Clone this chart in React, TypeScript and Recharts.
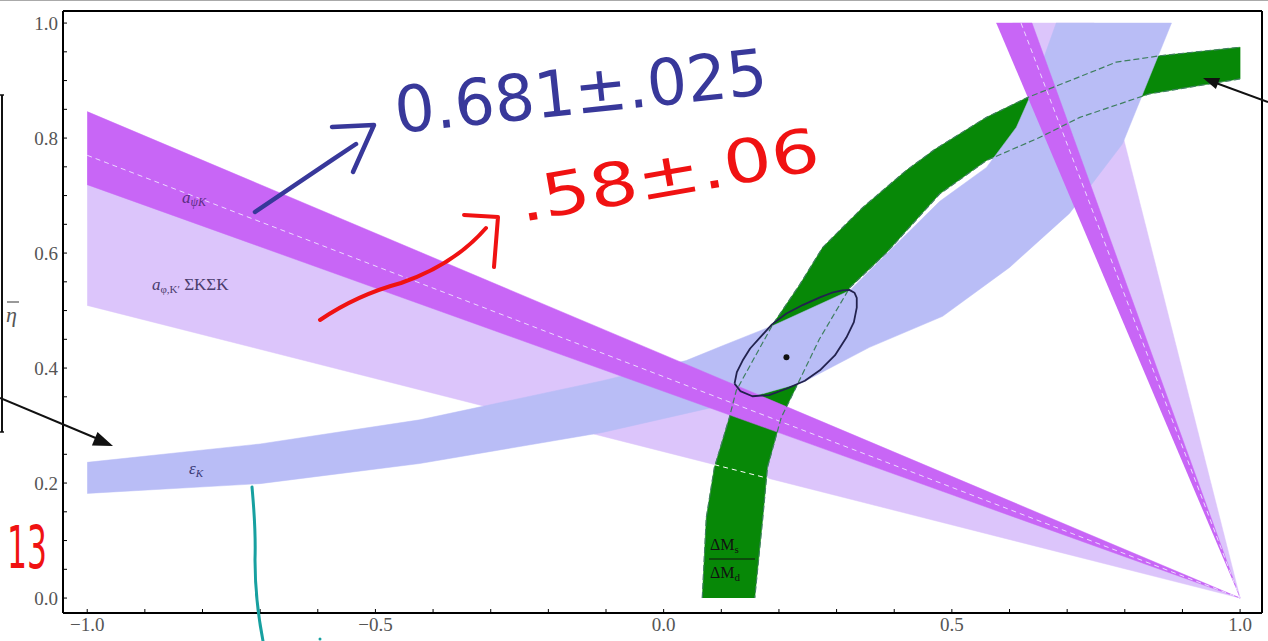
import React from 'react';
import { ScatterChart, Scatter, XAxis, YAxis } from 'recharts';

// ---- tick values ----
const xTicks = [-1.0, -0.9, -0.8, -0.7, -0.6, -0.5, -0.4, -0.3, -0.2, -0.1, 0.0, 0.1, 0.2, 0.3, 0.4, 0.5, 0.6, 0.7, 0.8, 0.9, 1.0];
const xLabeled = [-1.0, -0.5, 0.0, 0.5, 1.0];
const yTicks = [0.0, 0.05, 0.1, 0.15, 0.2, 0.25, 0.3, 0.35, 0.4, 0.45, 0.5, 0.55, 0.6, 0.65, 0.7, 0.75, 0.8, 0.85, 0.9, 0.95, 1.0];
const yLabeled = [0.0, 0.2, 0.4, 0.6, 0.8, 1.0];

// ---- band outlines (rho, eta) ----
const lightShallowBand = [[-1.0, 0.77], [1.0, 0.0], [-1.0, 0.509]];
const darkShallowBand = [[-1.0, 0.846], [1.0, 0.0], [-1.0, 0.719]];
const lightSteepBand = [[0.605, 1.0], [0.747, 1.0], [1.0, 0.0]];
const darkSteepBand = [[0.577, 1.0], [0.639, 1.0], [1.0, 0.0]];

const epsKUpper = [[-1.0, 0.236], [-0.7, 0.268], [-0.423, 0.31], [-0.106, 0.378], [0.039, 0.413], [0.1, 0.438], [0.19, 0.474], [0.323, 0.535], [0.392, 0.604], [0.479, 0.69], [0.56, 0.749], [0.612, 0.819], [0.635, 0.871], [0.681, 1.0]];
const epsKLower = [[0.881, 1.0], [0.796, 0.79], [0.704, 0.669], [0.6, 0.575], [0.484, 0.49], [0.357, 0.436], [0.241, 0.375], [0.1, 0.335], [-0.106, 0.288], [-0.423, 0.234], [-0.7, 0.199], [-1.0, 0.182]];

const dmOuter = [[0.067, 0.0], [0.074, 0.14], [0.088, 0.227], [0.114, 0.314], [0.126, 0.361], [0.19, 0.477], [0.236, 0.545], [0.276, 0.61], [0.345, 0.679], [0.42, 0.743], [0.47, 0.78], [0.56, 0.836], [0.63, 0.87], [0.785, 0.932], [0.86, 0.943], [1.0, 0.958]];
const dmInner = [[1.0, 0.903], [0.843, 0.877], [0.722, 0.836], [0.65, 0.8], [0.56, 0.761], [0.479, 0.703], [0.386, 0.6], [0.323, 0.54], [0.27, 0.45], [0.227, 0.361], [0.204, 0.314], [0.18, 0.227], [0.172, 0.14], [0.158, 0.0]];

const shallowCentre = [[-1.0, 0.77], [1.0, 0.0]];
const shallowLowerEdgeUnderDm = [[0.088, 0.232], [0.182, 0.208]];
const steepCentre = [[0.62, 1.0], [1.0, 0.0]];

const fitEllipse = [[0.123, 0.373], [0.133, 0.36], [0.154, 0.351], [0.183, 0.353], [0.213, 0.364], [0.245, 0.378], [0.271, 0.396], [0.297, 0.422], [0.317, 0.453], [0.33, 0.48], [0.335, 0.505], [0.335, 0.522], [0.331, 0.531], [0.322, 0.536], [0.31, 0.535], [0.292, 0.531], [0.271, 0.523], [0.242, 0.51], [0.213, 0.495], [0.188, 0.476], [0.167, 0.453], [0.15, 0.434], [0.137, 0.413], [0.127, 0.393], [0.123, 0.373]];
const fitCentre = [[0.213, 0.419]];

const toPts = (a: number[][]) => a.map(([x, y]) => ({ x, y }));

const C = {
  dark: '#c866f6',
  light: '#dcc5fb',
  blue: '#b9bdf6',
  green: '#078807',
};

const noShape = () => <g />;

const isMajor = (v: number, list: number[]) => list.some((m) => Math.abs(m - v) < 1e-6);
const fmt = (v: number) => (v < 0 ? '\u2212' : '') + Math.abs(v).toFixed(1);

const tickStyle = { fill: '#555', fontSize: 19, fontFamily: 'Liberation Serif, serif' };

export default function App() {
  const poly = (key: string, pts: number[][], fill: string) => (
    <Scatter
      key={key}
      xAxisId="b"
      yAxisId="l"
      data={toPts(pts)}
      shape={noShape}
      line={{ fill, stroke: fill, strokeWidth: 0.5 }}
      isAnimationActive={false}
    />
  );
  const dashed = (key: string, pts: number[][], stroke: string, dash: string, w = 1) => (
    <Scatter
      key={key}
      xAxisId="b"
      yAxisId="l"
      data={toPts(pts)}
      shape={noShape}
      line={{ fill: 'none', stroke, strokeWidth: w, strokeDasharray: dash, strokeLinejoin: 'round' }}
      isAnimationActive={false}
    />
  );

  return (
    <div style={{ position: 'absolute', left: 0, top: 0, width: 1268, height: 641, background: '#fff', overflow: 'hidden' }}>
      <ScatterChart width={1268} height={641} margin={{ top: 10, right: 5, bottom: 0, left: 0 }}>
        <XAxis
          xAxisId="b"
          type="number"
          dataKey="x"
          domain={[-1.042, 1.038]}
          allowDataOverflow
          ticks={xTicks}
          interval={0}
          tickFormatter={(v: number) => (isMajor(v, xLabeled) ? fmt(v) : '')}
          height={28}
          tickSize={-4}
          tickMargin={9}
          axisLine={{ stroke: '#000', strokeWidth: 2 }}
          tickLine={{ stroke: '#000' }}
          tick={tickStyle}
        />
        <XAxis
          xAxisId="t"
          orientation="top"
          type="number"
          dataKey="x"
          domain={[-1.042, 1.038]}
          allowDataOverflow
          ticks={xTicks}
          interval={0}
          height={1}
          tickSize={-4}
          tick={false}
          axisLine={{ stroke: '#000', strokeWidth: 2 }}
          tickLine={{ stroke: '#000' }}
        />
        <YAxis
          yAxisId="l"
          type="number"
          dataKey="y"
          domain={[-0.026, 1.021]}
          allowDataOverflow
          ticks={yTicks}
          interval={0}
          tickFormatter={(v: number) => (isMajor(v, yLabeled) ? v.toFixed(1) : '')}
          width={63}
          tickSize={-4}
          tickMargin={9}
          axisLine={{ stroke: '#000', strokeWidth: 2 }}
          tickLine={{ stroke: '#000' }}
          tick={tickStyle}
        />
        <YAxis
          yAxisId="r"
          orientation="right"
          type="number"
          dataKey="y"
          domain={[-0.026, 1.021]}
          allowDataOverflow
          ticks={yTicks}
          interval={0}
          width={1}
          tickSize={-4}
          tick={false}
          axisLine={{ stroke: '#000', strokeWidth: 2 }}
          tickLine={{ stroke: '#000' }}
        />
        {poly('lightShallow', lightShallowBand, C.light)}
        {poly('lightSteep', lightSteepBand, C.light)}
        {poly('dm', [...dmOuter, ...dmInner], C.green)}
        {poly('epsK', [...epsKUpper, ...epsKLower], C.blue)}
        {poly('darkShallow', darkShallowBand, C.dark)}
        {poly('darkSteep', darkSteepBand, C.dark)}
        {dashed('c1', shallowCentre, '#ecd9ff', '5 4')}
        {dashed('c2', shallowLowerEdgeUnderDm, '#ffffff', '5 4')}
        {dashed('c3', steepCentre, '#ecd9ff', '5 4')}
        {dashed('g1', dmOuter, '#3f7f60', '6 3', 1.2)}
        {dashed('g2', dmInner, '#3f7f60', '6 3', 1.2)}
        {dashed('ell', fitEllipse, '#22224e', '0', 1.8)}
        <Scatter
          xAxisId="b"
          yAxisId="l"
          data={toPts(fitCentre)}
          shape={(p: any) => <circle cx={p.cx} cy={p.cy} r={3} fill="#111" />}
          isAnimationActive={false}
        />
        {/* keep secondary axes bound to a series */}
        <Scatter xAxisId="t" yAxisId="r" data={toPts(fitCentre)} shape={noShape} isAnimationActive={false} />
      </ScatterChart>

      <svg width={1268} height={641} style={{ position: 'absolute', left: 0, top: 0, pointerEvents: 'none' }}>
        <line x1={0} y1={0.5} x2={1268} y2={0.5} stroke="#aaa" strokeWidth={1} />
        {/* in-plot labels */}
        <text x={182} y={203} fontFamily="Liberation Serif, serif" fontStyle="italic" fontSize={17} fill="#5b2d84">
          a<tspan fontSize={12} dy={3}>ψK</tspan>
        </text>
        <text x={152} y={290} fontFamily="Liberation Serif, serif" fontSize={17} fill="#4a3c6c">
          <tspan fontStyle="italic">a</tspan>
          <tspan fontSize={11} dy={3}>φ,K′</tspan>
          <tspan dy={-3}> ΣKΣK</tspan>
        </text>
        <text x={189} y={474} fontFamily="Liberation Serif, serif" fontStyle="italic" fontSize={17} fill="#3a3a78">
          ε<tspan fontSize={11} dy={3}>K</tspan>
        </text>
        <text x={710} y={550} fontFamily="Liberation Serif, serif" fontSize={16} fill="#111">
          ΔM<tspan fontSize={11} dy={3}>s</tspan>
        </text>
        <line x1={709} y1={559} x2={755} y2={559} stroke="#111" strokeWidth={1} />
        <text x={710} y={578} fontFamily="Liberation Serif, serif" fontSize={16} fill="#111">
          ΔM<tspan fontSize={11} dy={3}>d</tspan>
        </text>

        {/* left margin annotations */}
        <text x={6} y={322} fontFamily="Liberation Serif, serif" fontStyle="italic" fontSize={22} fill="#555">η</text>
        <line x1={7} y1={302} x2={19} y2={302} stroke="#555" strokeWidth={1.2} />
        <line x1={2} y1={95} x2={2} y2={432} stroke="#111" strokeWidth={2} />
        <line x1={0} y1={95} x2={4} y2={95} stroke="#111" strokeWidth={1.5} />
        <line x1={0} y1={432} x2={4} y2={432} stroke="#111" strokeWidth={1.5} />
        <line x1={0} y1={398} x2={98} y2={439} stroke="#111" strokeWidth={2} />
        <polygon points="113,446 97.5,432 91.9,445.4" fill="#111" />
        <text x={7} y={568} fontFamily="DejaVu Sans, sans-serif" fontSize={58} fill="#f01212" textLength={40} lengthAdjust="spacingAndGlyphs">13</text>

        {/* right arrow */}
        <line x1={1268} y1={102} x2={1216} y2={83} stroke="#111" strokeWidth={2} />
        <polygon points="1203,78 1220.1,77.9 1215.9,89.1" fill="#111" />

        {/* handwriting */}
        <path d="M255 212 C 280 195 320 168 356 144" fill="none" stroke="#38389a" strokeWidth={4.5} strokeLinecap="round" />
        <path d="M332 127 L374 125 L353 172" fill="none" stroke="#38389a" strokeWidth={4.5} strokeLinecap="round" strokeLinejoin="round" />
        <text x={397} y={133} transform="rotate(-6 397 133)" fontFamily="DejaVu Sans, sans-serif" fontSize={64} fill="#38389a" textLength={374} lengthAdjust="spacingAndGlyphs">0.681±.025</text>

        <path d="M320 320 C 345 303 375 290 401 283 C 430 273 460 258 486 228" fill="none" stroke="#f01212" strokeWidth={4} strokeLinecap="round" />
        <path d="M464 215 L498 217 L494 267" fill="none" stroke="#f01212" strokeWidth={4} strokeLinecap="round" strokeLinejoin="round" />
        <text x={522} y={222} transform="rotate(-10 522 222)" fontFamily="DejaVu Sans, sans-serif" fontSize={60} fill="#f01212" textLength={305} lengthAdjust="spacingAndGlyphs">.58±.06</text>

        <path d="M252 487 C 254 510 256 530 255 560 C 255 590 258 615 263 641" fill="none" stroke="#17a0a0" strokeWidth={3} strokeLinecap="round" />
        <circle cx={320} cy={639} r={1.5} fill="#17a0a0" />
      </svg>
    </div>
  );
}
